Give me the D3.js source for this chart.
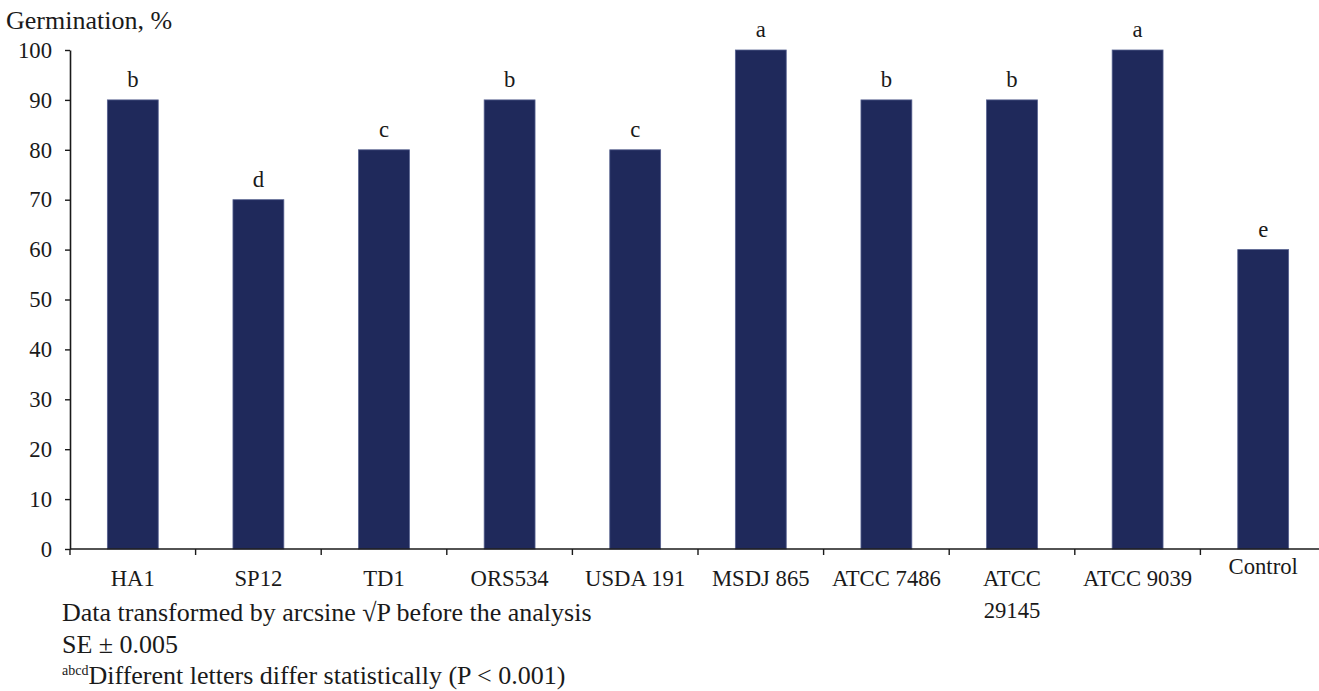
<!DOCTYPE html>
<html>
<head>
<meta charset="utf-8">
<script src="https://cdn.jsdelivr.net/npm/d3@7"></script>
<style>
  html, body { margin: 0; padding: 0; background: #fff; }
  svg { display: block; font-family: "Liberation Serif", "Times New Roman", serif; }
</style>
</head>
<body>
<svg id="chart" width="1319" height="691"></svg>
<script>
// Germination of seeds by treatment
const categories = ["HA1", "SP12", "TD1", "ORS534", "USDA 191", "MSDJ 865", "ATCC 7486", "ATCC 29145", "ATCC 9039", "Control"];
const germination = [90, 70, 80, 90, 80, 100, 90, 90, 100, 60];
const groupLetters = ["b", "d", "c", "b", "c", "a", "b", "b", "a", "e"];
const yTicks = [0, 10, 20, 30, 40, 50, 60, 70, 80, 90, 100];
const yTitle = "Germination, %";
const notes = ["Data transformed by arcsine \u221AP before the analysis", "SE \u00B1 0.005"];
const noteSup = "abcd";
const noteLast = "Different letters differ statistically (P < 0.001)";

const svg = d3.select("#chart");
const ink = "#1a1a1a";
const barFill = "#1f295b";
const barEdge = "#56618f";
const labelSize = 22.7;
const noteSize = 26;

const x0 = 70, x1 = 1326, yBase = 549, yTop = 50;

const x = d3.scaleBand().domain(categories).range([x0, x1]).paddingInner(0.595).paddingOuter(0.2975);
const y = d3.scaleLinear().domain([0, 100]).range([yBase, yTop]);

// y axis
const yAxis = svg.append("g").attr("transform", `translate(${x0},0)`)
  .call(d3.axisLeft(y).tickValues(yTicks).tickSize(5).tickPadding(13).tickSizeOuter(0));
yAxis.select(".domain").attr("stroke", ink).attr("stroke-width", 1.6);
yAxis.selectAll(".tick line").attr("stroke", ink).attr("stroke-width", 1.4);
yAxis.selectAll(".tick text").attr("fill", ink).attr("font-size", labelSize).attr("font-family", "Liberation Serif");

// bars
svg.append("g").selectAll("rect").data(categories).join("rect")
  .attr("x", d => x(d))
  .attr("y", (d, i) => y(germination[i]))
  .attr("width", x.bandwidth())
  .attr("height", (d, i) => yBase - y(germination[i]))
  .attr("fill", barFill)
  .attr("stroke", barEdge)
  .attr("stroke-width", 0.8);

// x axis: line with ticks at category boundaries
const xAxisG = svg.append("g");
xAxisG.append("line").attr("x1", x0).attr("x2", x1).attr("y1", yBase).attr("y2", yBase)
  .attr("stroke", ink).attr("stroke-width", 1.6);
const step = x.step();
const bounds = d3.range(categories.length + 1).map(i => x0 + i * step);
xAxisG.selectAll("line.tk").data(bounds).join("line").attr("class", "tk")
  .attr("x1", d => d).attr("x2", d => d).attr("y1", yBase).attr("y2", yBase + 6)
  .attr("stroke", ink).attr("stroke-width", 1.4);

// category labels, wrapped when the band is too narrow
const labelY = 586;
categories.forEach((c, i) => {
  const cx = x(c) + x.bandwidth() / 2;
  let lines = [c];
  if (c === "ATCC 29145") lines = ["ATCC", "29145"];
  const t = svg.append("text").attr("x", cx).attr("y", c === "Control" ? 574 : labelY)
    .attr("text-anchor", "middle").attr("font-size", labelSize).attr("fill", ink);
  lines.forEach((l, k) => t.append("tspan").attr("x", cx).attr("dy", k === 0 ? 0 : 32).text(l));
});

// significance letters above bars
svg.append("g").selectAll("text").data(categories).join("text")
  .attr("x", d => x(d) + x.bandwidth() / 2)
  .attr("y", (d, i) => y(germination[i]) - 13)
  .attr("text-anchor", "middle").attr("font-size", labelSize).attr("fill", ink)
  .text((d, i) => groupLetters[i]);

// axis title
svg.append("text").attr("x", 6).attr("y", 29).attr("font-size", noteSize).attr("fill", ink).text(yTitle);

// footnotes
notes.forEach((n, i) => {
  svg.append("text").attr("x", 62).attr("y", 621 + i * 32).attr("font-size", noteSize).attr("fill", ink).text(n);
});
const last = svg.append("text").attr("x", 62).attr("y", 684).attr("font-size", noteSize).attr("fill", ink);
last.append("tspan").attr("font-size", 14).attr("dy", -9).text(noteSup);
last.append("tspan").attr("dy", 9).text(noteLast);
</script>
</body>
</html>
